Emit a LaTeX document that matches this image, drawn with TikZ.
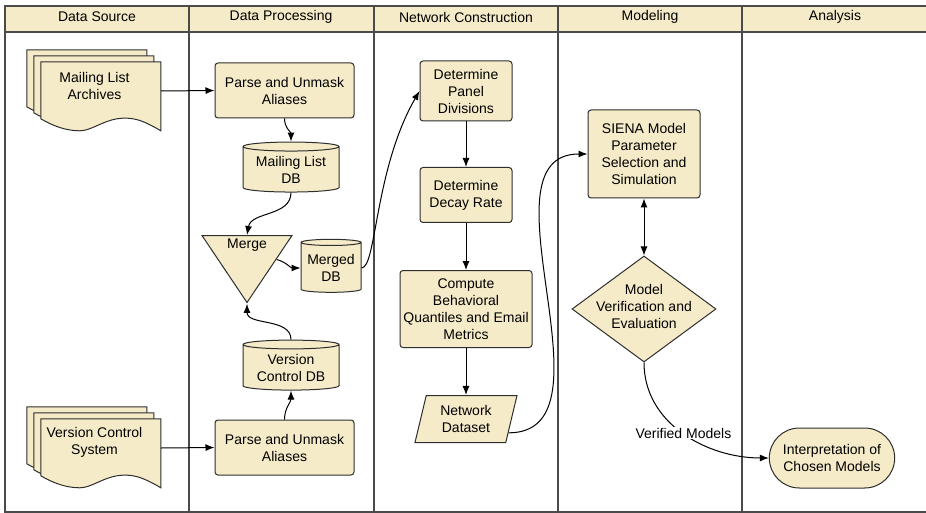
\documentclass[tikz,border=0pt]{standalone}
\usepackage{fontspec}
\setmainfont{Liberation Sans}
\usetikzlibrary{arrows.meta,positioning,shapes.geometric,shapes.misc,calc}

\definecolor{lanefill}{HTML}{F5EBC8}
\definecolor{linegray}{HTML}{2E2E2E}
\definecolor{lanegray}{HTML}{4A4A4A}

% stack of three documents behind a node
\newcommand\docstack[1]{%
  \foreach \dx/\dy in {-14/-12,-7/-6,0/0}
    \draw[box,shift={($(#1.north west)+(\dx,\dy)$)}] (0,0) -- (120,0) -- (120,69)
      .. controls (100,57) and (90,55) .. (76,57)
      .. controls (60,60) and (50,69) .. (39,69)
      .. controls (25,69) and (12,64) .. (0,57) -- cycle;}

\begin{document}
\begin{tikzpicture}[x=1pt,y=-1pt,on grid,>={Latex[length=9pt,width=7pt]},
    font=\fontsize{14}{17}\selectfont]
  \tikzstyle{box}=[draw=linegray,fill=lanefill,line width=1pt]
  \tikzstyle{proc}=[box,rectangle,rounded corners=3pt,align=center,inner sep=2pt]
  \tikzstyle{db}=[box,cylinder,shape border rotate=90,aspect=0.125,align=center,inner sep=1pt]
  \tikzstyle{merge}=[box,isosceles triangle,isosceles triangle stretches,shape border rotate=-90,
    minimum width=90pt,minimum height=67pt,inner sep=0pt,anchor=north]
  \tikzstyle{data}=[box,trapezium,trapezium left angle=69,trapezium right angle=111,
    trapezium stretches body,minimum width=102pt,minimum height=47pt,align=center,inner sep=1pt]
  \tikzstyle{decision}=[box,diamond,minimum width=144pt,minimum height=106pt,inner sep=0pt]
  \tikzstyle{term}=[box,rounded rectangle,minimum width=132pt,minimum height=60pt,align=center]
  \tikzstyle{docnode}=[minimum width=120pt,minimum height=58pt,inner sep=0pt]
  \tikzstyle{txt}=[align=center,inner sep=0pt]
  \tikzstyle{lane}=[draw=lanegray,line width=1.2pt]

  \useasboundingbox (0,0) rectangle (926,513);

  % swimlanes
  \fill[lanefill] (5,6) rectangle (928,32);
  \draw[lane] (5,6) rectangle (928,512);
  \draw[lane] (5,32) -- (928,32);
  \foreach \x in {189,374,558,742}
    \draw[lane] (\x,6) -- (\x,512);
  \node (h_src) at (97,17)  {Data Source};
  \node (h_proc) at (281,17) {Data Processing};
  \node (h_net) at (466,17) {Network Construction};
  \node (h_mod) at (650,17) {Modeling};
  \node (h_ana) at (835,17) {Analysis};

  % data source
  \node[docnode] (mla) at (101,91) {};
  \docstack{mla}
  \node[txt] (mla_t) at ([xshift=-6.5pt,yshift=5.5pt]mla.center) {Mailing List\\Archives};
  \node[docnode] (vcs) at (101,448) {};
  \docstack{vcs}
  \node[txt] (vcs_t) at ([xshift=-6.5pt,yshift=6pt]vcs.center) {Version Control\\System};

  % data processing
  \node[proc,minimum width=139pt,minimum height=55pt] (pa_ml) at (284.5,90.5) {Parse and Unmask\\Aliases};
  \node[db,minimum width=96pt,minimum height=50pt] (db_ml) at (291,170) {Mailing List\\DB};
  \node[merge] (mg) at (247,235) {};
  \node[txt] (mg_t) at (247,245) {Merge};
  \node[db,minimum width=60pt,minimum height=53pt] (db_mg) at (331,268) {Merged\\DB};
  \node[db,minimum width=96pt,minimum height=50pt] (db_vc) at (291,368) {Version\\Control DB};
  \node[proc,minimum width=139pt,minimum height=55pt] (pa_vc) at (284.5,447.5) {Parse and Unmask\\Aliases};

  % network construction
  \node[proc,minimum width=92pt,minimum height=60pt] (pd) at (466,91) {Determine\\Panel\\Divisions};
  \node[proc,minimum width=92pt,minimum height=55pt] (dr) [below=104pt of pd] {Determine\\Decay Rate};
  \node[proc,minimum width=132pt,minimum height=77pt] (cq) [below=114pt of dr] {Compute\\Behavioral\\Quantiles and Email\\Metrics};
  \node[data] (nd) [below=110pt of cq] {Network\\Dataset};

  % modeling and analysis
  \node[proc,minimum width=112pt,minimum height=88pt] (sm) at (644,154) {SIENA Model\\Parameter\\Selection and\\Simulation};
  \node[decision] (mv) at (644,309) {};
  \node[txt] (mv_t) at ([yshift=3pt]mv.center) {Model\\Verification and\\Evaluation};
  \node[term] (ic) at (832,458) {Interpretation of\\Chosen Models};

  \path[->,line width=1pt]
  (mla.east) edge (pa_ml.west)
  (vcs.east) edge (pa_vc.west)
  (pa_ml) edge [out=-90,in=90] (db_ml)
  (db_ml) edge [out=-90,in=80] (mg.north)
  (pa_vc) edge [out=90,in=-90] (db_vc)
  (db_vc) edge [out=90,in=-90] (mg.apex)
  (mg.east) edge [out=-15,in=180] (db_mg.west)
  (db_mg.east) edge [out=0,in=240,out distance=15pt,in distance=90pt] (pd.west)
  (pd) edge (dr)
  (dr) edge (cq)
  (cq) edge (nd)
  (nd.-18) edge [out=0,in=180] (sm.west)
  (sm) edge [<->] (mv)
  (mv) edge [out=-90,in=180] node[fill=white,inner sep=1pt] (vm) {Verified Models} (ic);
\end{tikzpicture}
\end{document}
